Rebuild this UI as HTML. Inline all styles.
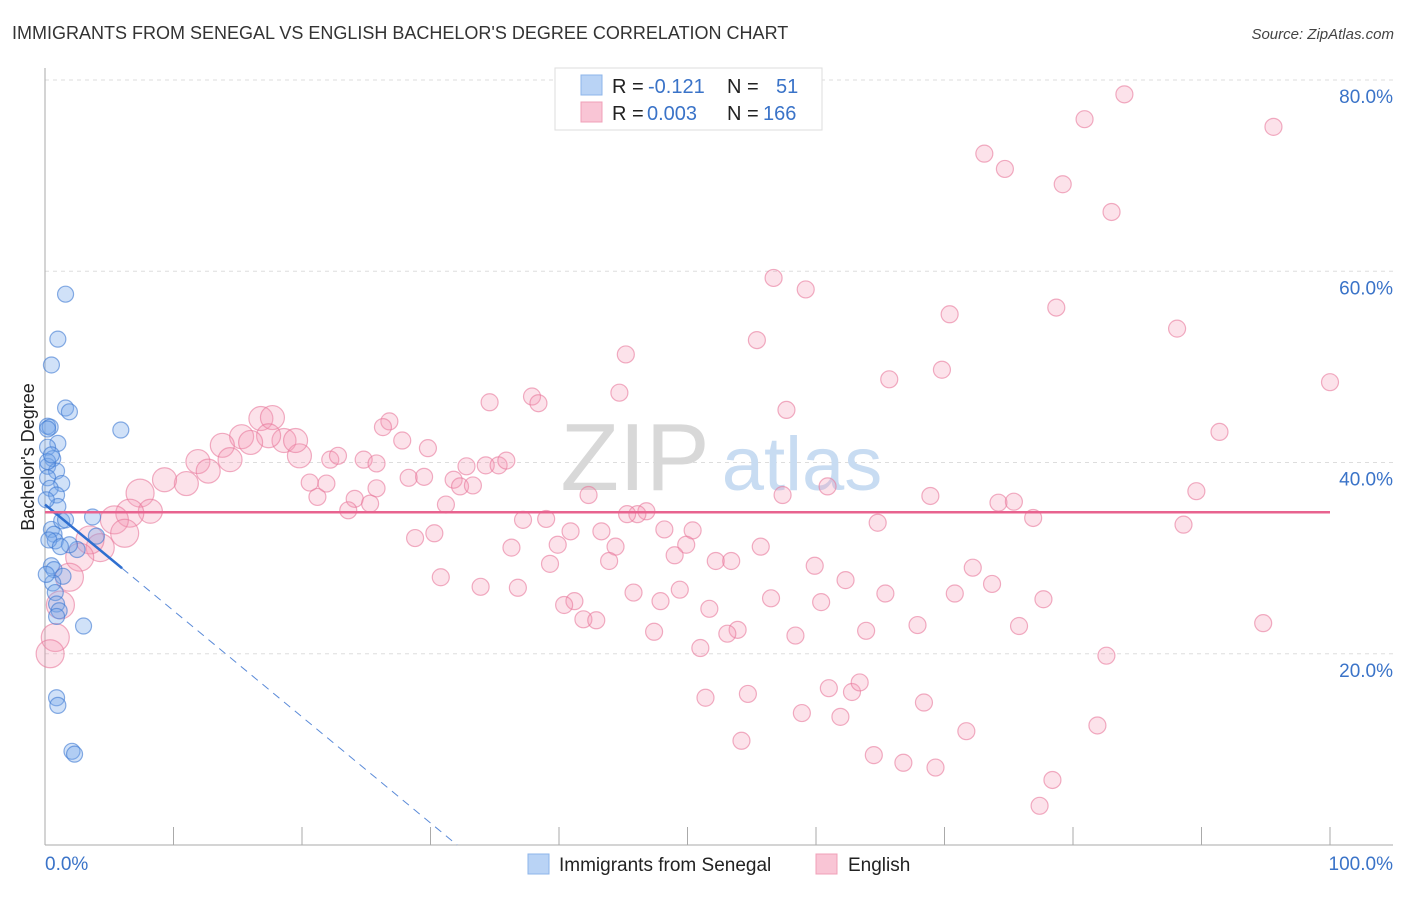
<!DOCTYPE html>
<html><head><meta charset="utf-8"><style>
body{margin:0;background:#fff;font-family:"Liberation Sans",sans-serif;}
svg text{font-family:"Liberation Sans",sans-serif;}
</style></head><body>
<svg id="chart" width="1406" height="892" xmlns="http://www.w3.org/2000/svg">
<text x="12" y="39" font-size="18" fill="#333">IMMIGRANTS FROM SENEGAL VS ENGLISH BACHELOR'S DEGREE CORRELATION CHART</text>
<text x="1394" y="39" font-size="15" fill="#444" text-anchor="end" font-style="italic">Source: ZipAtlas.com</text>
<g id="grid"></g>
<g>
<text x="635" y="490" font-size="96" fill="#d8d8d8" text-anchor="middle" font-family="Liberation Serif">ZIP</text>
<text x="802" y="490" font-size="76" fill="#c8dcf2" text-anchor="middle">atlas</text>
</g>
<g id="pts"></g>
<g id="lines"></g>
<text transform="translate(34,457) rotate(-90)" font-size="18" fill="#222" text-anchor="middle">Bachelor's Degree</text>
<g>
<rect x="555" y="68" width="267" height="62" fill="#fff" stroke="#ddd"/>
<rect x="581" y="75" width="21" height="20" fill="#b9d3f5" stroke="#8db4ea"/>
<rect x="581" y="102" width="21" height="20" fill="#f9c5d5" stroke="#f0a0b8"/>
<text x="612" y="93" font-size="20" fill="#222">R =</text>
<text x="648" y="93" font-size="20" fill="#3a73c8">-0.121</text>
<text x="727" y="93" font-size="20" fill="#222">N =</text>
<text x="776" y="93" font-size="20" fill="#3a73c8">51</text>
<text x="612" y="120" font-size="20" fill="#222">R =</text>
<text x="647" y="120" font-size="20" fill="#3a73c8">0.003</text>
<text x="727" y="120" font-size="20" fill="#222">N =</text>
<text x="763" y="120" font-size="20" fill="#3a73c8">166</text>
</g>
<g>
<rect x="528" y="854" width="21" height="20" fill="#b9d3f5" stroke="#8db4ea"/>
<text x="559" y="871" font-size="19" fill="#222">Immigrants from Senegal</text>
<rect x="816" y="854" width="21" height="20" fill="#f9c5d5" stroke="#f0a0b8"/>
<text x="848" y="871" font-size="19" fill="#222">English</text>
</g>
</svg>
<script>
const yTicks=[20,40,60,80];
const xTickLabels=["0.0%","100.0%"];
const englishX=[84.0,95.6,80.9,73.1,74.7,79.2,83.0,56.7,59.2,70.4,78.7,88.1,55.4,45.2,100,65.7,69.8,44.7,34.6,37.9,38.4,57.7,91.4,26.8,26.3,27.8,29.8,16.8,17.7,15.3,18.6,19.8,19.5,17.4,16.0,13.8,14.4,11.9,12.7,11.0,9.3,7.4,8.2,6.6,5.4,6.2,4.3,3.5,2.7,1.9,1.2,0.8,0.4,22.2,22.8,24.8,25.8,28.3,25.8,24.1,23.6,25.3,21.2,20.6,21.9,29.5,31.2,32.8,31.8,32.3,33.3,34.3,35.3,35.9,37.2,39.0,42.3,46.8,46.1,45.3,40.9,39.9,36.3,28.8,30.3,43.3,44.4,43.9,39.3,30.8,33.9,36.8,41.2,40.4,41.9,42.9,45.8,47.9,49.4,48.2,50.4,49.9,49.0,52.2,53.4,55.7,57.4,60.9,64.8,68.9,74.2,75.4,76.9,88.6,89.6,59.9,62.3,65.4,70.8,72.2,73.7,77.7,51.7,53.9,53.1,51.0,47.4,56.5,58.4,60.4,63.9,67.9,75.8,82.6,94.8,51.4,54.7,61.0,62.8,63.4,68.4,71.7,81.9,58.9,61.9,54.2,64.5,66.8,69.3,78.4,77.4];
const englishY=[78.5,75.1,75.9,72.3,70.7,69.1,66.2,59.3,58.1,55.5,56.2,54.0,52.8,51.3,48.4,48.7,49.7,47.3,46.3,46.9,46.2,45.5,43.2,44.3,43.7,42.3,41.5,44.6,44.7,42.7,42.3,40.7,42.3,42.8,42.1,41.8,40.3,40.1,39.1,37.8,38.2,36.8,34.9,34.7,34.0,32.6,31.1,31.9,30.1,28.0,25.1,21.7,20.0,40.3,40.7,40.3,39.9,38.4,37.3,36.2,35.0,35.7,36.4,37.9,37.8,38.5,35.6,39.6,38.2,37.5,37.6,39.7,39.7,40.2,34.0,34.1,36.6,34.9,34.6,34.6,32.8,31.4,31.1,32.1,32.6,32.8,31.2,29.7,29.4,28.0,27.0,26.9,25.5,25.1,23.6,23.5,26.4,25.5,26.7,33.0,32.9,31.4,30.3,29.7,29.7,31.2,36.6,37.5,33.7,36.5,35.8,35.9,34.2,33.5,37.0,29.2,27.7,26.3,26.3,29.0,27.3,25.7,24.7,22.5,22.1,20.6,22.3,25.8,21.9,25.4,22.4,23.0,22.9,19.8,23.2,15.4,15.8,16.4,16.0,17.0,14.9,11.9,12.5,13.8,13.4,10.9,9.4,8.6,8.1,6.8,4.1];
const senegalX=[1.6,1.0,0.5,1.6,1.9,5.9,0.2,0.4,1.0,0.2,0.6,0.2,0.9,0.2,1.3,0.4,0.9,1.0,3.7,0.5,0.7,0.8,4.0,2.5,1.9,0.5,0.7,1.4,0.6,0.8,0.9,1.1,0.9,3.0,0.9,1.0,2.1,2.3,0.2,0.1,1.3,0.1,1.6,0.3,0.2,0.5,1.2];
const senegalY=[57.6,52.9,50.2,45.7,45.3,43.4,43.8,43.7,42.0,41.6,40.4,39.6,39.1,38.4,37.8,37.3,36.6,35.4,34.3,33.0,32.5,31.8,32.3,30.9,31.4,29.2,28.8,28.1,27.4,26.4,25.2,24.5,23.9,22.9,15.4,14.6,9.8,9.5,40.1,36.1,33.9,28.3,34.0,31.9,43.5,40.8,31.2];
const senegalTrend=[35.6,-1.11]; // intercept, slope per x%
const englishTrend=[34.8,0.0];

const NS="http://www.w3.org/2000/svg";
const X0=45,X1=1330,Y0=845,YT=80;
const sx=v=>X0+(X1-X0)*v/100;
const sy=v=>Y0-(Y0-YT)*v/80;
function mk(tag,attrs,parent){const e=document.createElementNS(NS,tag);for(const k in attrs)e.setAttribute(k,attrs[k]);parent.appendChild(e);return e;}
const grid=document.getElementById('grid');
yTicks.forEach(t=>{
  const l=mk('line',{x1:45,x2:1393,y1:sy(t),y2:sy(t),stroke:'#ddd','stroke-dasharray':'4,4'},grid);
  
  
  const tx=mk('text',{x:1393,y:sy(t)+23,'font-size':19,fill:'#3a73c8','text-anchor':'end'},grid);
  tx.textContent=t.toFixed(1)+'%';
  
  
});
const ax=mk('line',{x1:45,x2:1393,y1:Y0,y2:Y0,stroke:'#aaa'},grid);


const ay=mk('line',{x1:45,x2:45,y1:68,y2:Y0,stroke:'#aaa'},grid);


for(let i=1;i<=10;i++){
  const t=mk('line',{x1:sx(i*10),x2:sx(i*10),y1:Y0-18,y2:Y0,stroke:'#aaa'},grid);
  
  
}
xTickLabels.forEach((s,i)=>{
  const t=mk('text',{x:i?1393:45,y:870,'font-size':19,fill:'#3a73c8','text-anchor':i?'end':'start'},grid);
  t.textContent=s;
  
  
});
const pts=document.getElementById('pts');
englishX.forEach((x,i)=>{
  const r=x<20?(x<8?14:12):8.5;
  const c=mk('circle',{cx:sx(x),cy:sy(englishY[i]),r:r,fill:'rgba(244,150,180,0.28)',stroke:'rgba(232,120,155,0.6)','stroke-width':1.2},pts);
  
  
});
senegalX.forEach((x,i)=>{
  const c=mk('circle',{cx:sx(x),cy:sy(senegalY[i]),r:8,fill:'rgba(120,170,235,0.35)',stroke:'rgba(60,120,210,0.6)','stroke-width':1.2},pts);
  
  
});
const lines=document.getElementById('lines');
const zeroX=-senegalTrend[0]/senegalTrend[1];
const bl1=mk('line',{x1:sx(0),y1:sy(senegalTrend[0]),x2:sx(6),y2:sy(senegalTrend[0]+senegalTrend[1]*6),stroke:'#2f6fd0','stroke-width':2.5},lines);


const bl2=mk('line',{x1:sx(6),y1:sy(senegalTrend[0]+senegalTrend[1]*6),x2:sx(zeroX),y2:sy(0),stroke:'#5a8ad8','stroke-width':1,'stroke-dasharray':'8,6'},lines);


const pl=mk('line',{x1:sx(0),y1:sy(englishTrend[0]),x2:sx(100),y2:sy(englishTrend[0]+englishTrend[1]*100),stroke:'#e8638f','stroke-width':2.5},lines);


</script>
</body></html>
